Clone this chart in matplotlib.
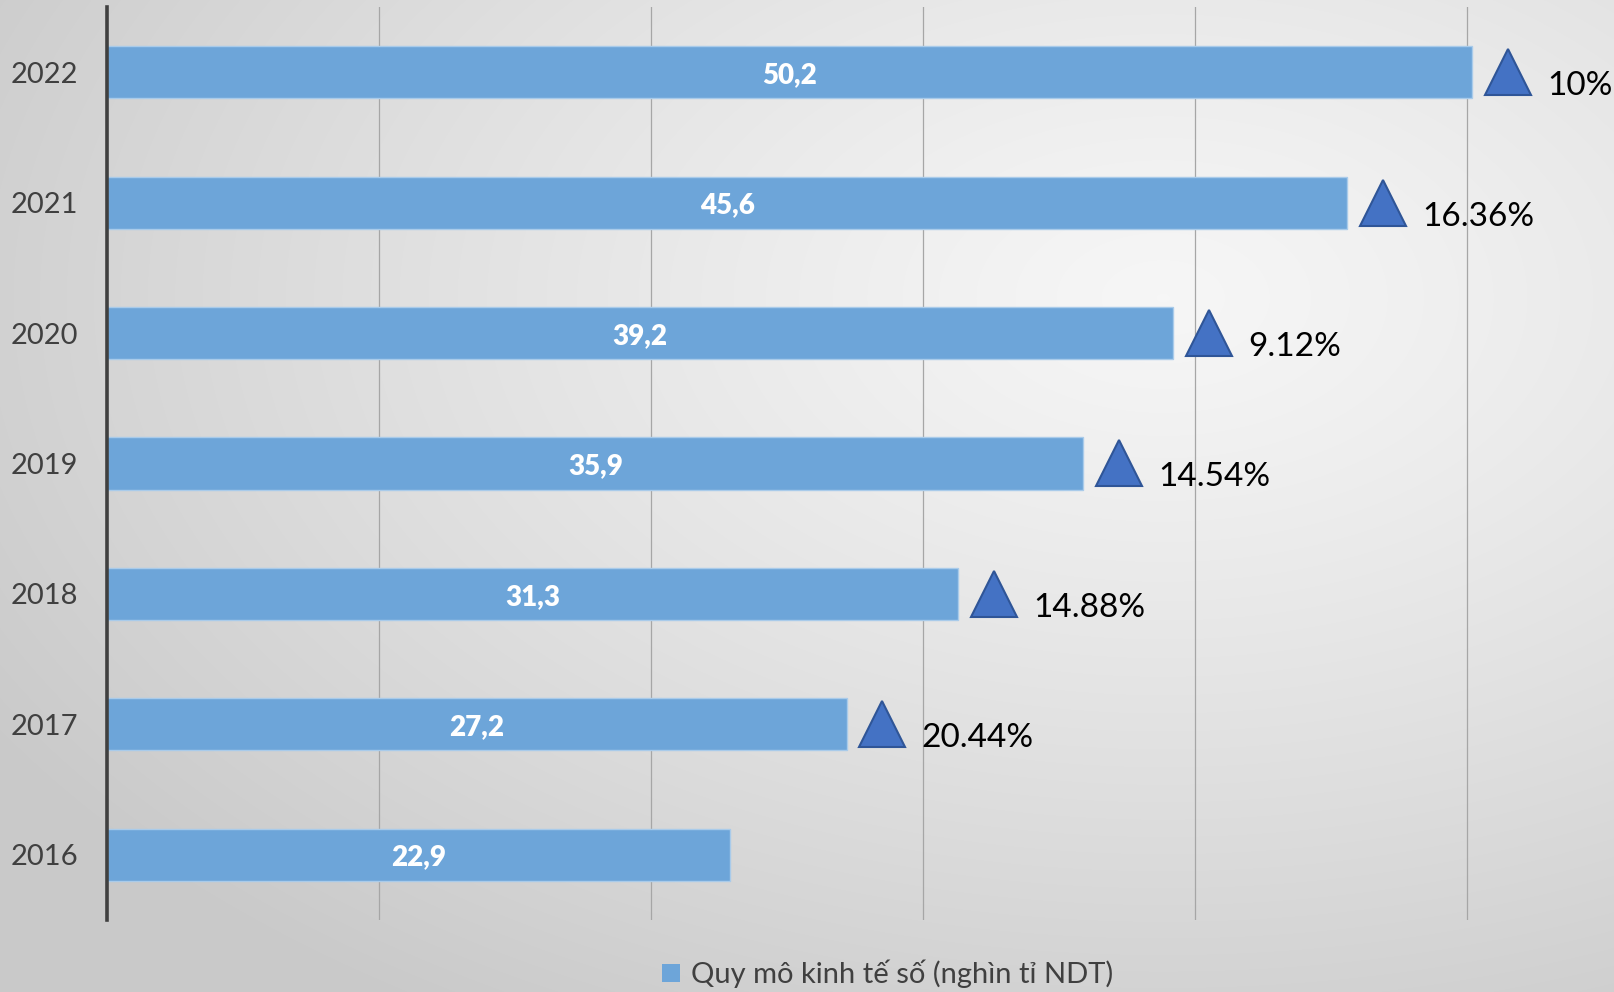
import numpy as np
import matplotlib
matplotlib.use("Agg")
import matplotlib.pyplot as plt
import matplotlib.transforms as mtransforms
from matplotlib.patches import Patch

years = ["2016", "2017", "2018", "2019", "2020", "2021", "2022"]
values = [22.9, 27.2, 31.3, 35.9, 39.2, 45.6, 50.2]
value_labels = ["22,9", "27,2", "31,3", "35,9", "39,2", "45,6", "50,2"]
growth_labels = ["", "20.44%", "14.88%", "14.54%", "9.12%", "16.36%", "10%"]
legend_label = "Quy mô kinh tế số (nghìn tỉ NDT)"
grid_ticks = [10, 20, 30, 40, 50]

plt.rcParams['font.family'] = ['Lato', 'DejaVu Sans']

W, H = 1615, 992
fig = plt.figure(figsize=(W / 100, H / 100), dpi=100)

# background radial gradient
bg = fig.add_axes([0, 0, 1, 1], zorder=-10)
yy, xx = np.mgrid[0:H, 0:W]
cx, cy = 0.72 * W, 0.30 * H
d = np.sqrt(((xx - cx) / W) ** 2 + ((yy - cy) / H) ** 2)
d = np.clip(d / 0.85, 0, 1)
light, dark = 0.965, 0.79
img = light + (dark - light) * d ** 1.2
bg.imshow(np.dstack([img, img, img]), aspect='auto', extent=[0, 1, 0, 1], origin='upper')
bg.axis('off')

ax = fig.add_axes([107 / W, 1 - 920 / H, 1 - 107 / W, 913 / H])
ax.set_facecolor('none')
ax.set_xlim(0, (W - 107) / 27.2)
ax.set_ylim(-0.5, 6.5)

y = np.arange(len(years))
ax.barh(y, values, height=0.40, color='#6DA5D9', edgecolor='#A9CBEA', linewidth=1.0, zorder=3)

for t in grid_ticks:
    ax.axvline(t, color='#A6A6A6', linewidth=0.9, zorder=1)

for s in ['top', 'right', 'bottom']:
    ax.spines[s].set_visible(False)
ax.spines['left'].set_color('#404040')
ax.spines['left'].set_linewidth(2.6)
ax.spines['left'].set_zorder(5)

ax.set_xticks([])
ax.set_yticks(y)
ax.set_yticklabels(years, fontsize=21, color='#404040')
ax.tick_params(axis='y', length=0, pad=21)

val_tr = mtransforms.offset_copy(ax.transData, fig=fig, x=0, y=-2, units='points')
for yi, v, lab in zip(y, values, value_labels):
    ax.text(v / 2, yi, lab, ha='center', va='center', color='white',
            fontsize=20, fontweight='heavy', zorder=4, transform=val_tr)

tri_tr = mtransforms.offset_copy(ax.transData, fig=fig, x=25.5, y=0, units='points')
for yi, v, g in zip(y, values, growth_labels):
    if not g:
        continue
    ax.plot([v], [yi], marker='^', markersize=33, color='#4472C4',
            markeredgecolor='#2F5597', markeredgewidth=1.5, transform=tri_tr,
            clip_on=False, zorder=4)
    ax.annotate(g, xy=(v, yi), xytext=(54, -10), textcoords='offset points',
                ha='left', va='center', fontsize=24, color='black',
                annotation_clip=False)

handles = [Patch(facecolor='#6DA5D9', edgecolor='none')]
fig.legend(handles, [legend_label], loc='center',
           bbox_to_anchor=(888 / W, 1 - 974 / H), frameon=False,
           fontsize=21, handlelength=0.6, handleheight=0.6, handletextpad=0.4,
           labelcolor='#404040')

fig.savefig('out.png', dpi=100)
